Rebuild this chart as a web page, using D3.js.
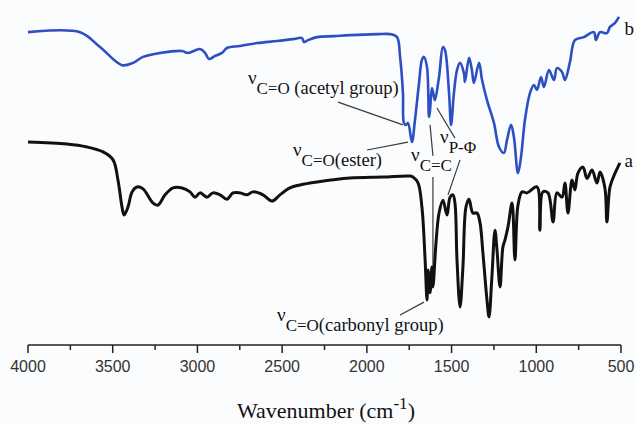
<!DOCTYPE html>
<html>
<head>
<meta charset="utf-8">
<script src="https://cdn.jsdelivr.net/npm/d3@7"></script>
<style>
	body { margin: 0; background: #fbfcfe; }
	svg { display: block; }
</style>
</head>
<body>
<svg id="chart" width="637" height="424"></svg>
<script>
// spectrum b (blue) - wavenumber / transmittance
var waveB = [4000, 3693, 3575, 3445, 3380, 3321, 3221, 3091, 3056, 2985, 2955, 2932, 2896, 2855, 2826, 2749, 2648, 2530, 2436, 2383, 2371, 2347, 2294, 2194, 2100, 1940, 1863, 1822, 1804, 1787, 1781, 1769, 1757, 1734, 1716, 1692, 1675, 1663, 1645, 1633, 1627, 1616, 1604, 1598, 1574, 1551, 1539, 1515, 1503, 1486, 1468, 1450, 1427, 1421, 1397, 1380, 1368, 1338, 1320, 1291, 1250, 1220, 1191, 1173, 1149, 1132, 1108, 1090, 1067, 1037, 1014, 996, 972, 955, 925, 896, 878, 848, 831, 801, 772, 719, 660, 648, 624, 583, 565, 535, 512];
var transB = [94.8, 94.8, 90.3, 84.8, 85.5, 87.3, 88.5, 89.1, 88.5, 89.7, 88.5, 86.7, 87.6, 88.5, 90, 90.6, 91.5, 92.1, 92.7, 93, 91.8, 92.4, 93.3, 93.6, 93.9, 94.2, 94.2, 93.3, 87.3, 76.4, 67.3, 66.7, 67.3, 61.5, 68.2, 79.4, 86.4, 87.3, 84.2, 69.1, 71.2, 77.9, 75.2, 74.2, 81.2, 90.3, 89.4, 76.4, 66.7, 76.4, 83.3, 85.5, 82.4, 79.7, 87, 83.3, 79.4, 85.5, 80.3, 74.2, 67.3, 60, 58.2, 62.1, 66.7, 63, 52.1, 57, 68.2, 76.4, 78.8, 77.3, 81.2, 78.2, 83.3, 80.3, 83.9, 82.7, 80.3, 85.8, 92.4, 93.3, 94.8, 92.4, 94.8, 94.5, 96.4, 97.6, 99.4];

// spectrum a (black)
var waveA = [4000, 3770, 3652, 3557, 3498, 3469, 3445, 3433, 3410, 3386, 3357, 3321, 3262, 3233, 3191, 3144, 3091, 3044, 3014, 2985, 2944, 2908, 2867, 2826, 2790, 2749, 2707, 2672, 2613, 2560, 2513, 2454, 2395, 2294, 2100, 1905, 1745, 1728, 1698, 1675, 1657, 1645, 1639, 1627, 1616, 1610, 1592, 1574, 1551, 1527, 1509, 1492, 1480, 1468, 1450, 1433, 1415, 1397, 1374, 1350, 1332, 1315, 1291, 1279, 1262, 1244, 1232, 1214, 1197, 1185, 1167, 1143, 1126, 1108, 1084, 1055, 996, 979, 961, 931, 901, 878, 848, 831, 813, 789, 772, 754, 724, 701, 671, 642, 624, 595, 583, 565, 535, 506];
var transA = [61.5, 60.9, 60, 58.5, 56.1, 50, 41.8, 39.4, 41.8, 46.4, 47.9, 47.3, 43, 42.4, 45.5, 47.6, 47.6, 46.4, 44.8, 46.1, 44.8, 46.1, 45.5, 44.2, 46.1, 46.1, 45.5, 46.4, 45.5, 43.6, 45.5, 47.6, 48.5, 49.4, 50.6, 50.9, 51.2, 50.9, 49.1, 41.8, 26.7, 13.6, 22.7, 15.8, 23.6, 17.6, 30.9, 40, 43.9, 39.4, 44.8, 45.5, 43, 25.8, 11.5, 23.6, 41.8, 44.2, 40, 40, 37, 27.9, 13.6, 8.5, 20.6, 34.8, 28.8, 17.6, 29.7, 31.8, 35.8, 43, 25.8, 42.4, 46.4, 46.1, 47.9, 34.8, 46.4, 46.1, 37.3, 46.1, 44.8, 49.1, 40, 50, 47, 52.1, 53.9, 50.5, 53, 49.1, 52.4, 47.6, 37.3, 47.9, 52.1, 55.2];

// axis ticks
var majorTicks = [4000, 3500, 3000, 2500, 2000, 1500, 1000, 500];
var minorTicks = [3750, 3250, 2750, 2250, 1750, 1250, 750];

// annotations: label parts + anchor (wavenumber, transmittance of baseline)
var annoNu = ["ν", "ν", "ν", "ν", "ν"];
var annoSub = ["C=O", "C=O", "C=C", "P-Φ", "C=O"];
var annoText = [" (acetyl group)", "(ester)", "", "", "(carbonyl group)"];
var annoWave = [2702, 2436, 1739, 1568, 2530];
var annoTrans = [76.1, 54.2, 52.7, 58.2, 4.2];

// leader lines [w1, t1, w2, t2]
var leaders = [
	[2170, 73.6, 1787, 66.7],
	[1999, 59.1, 1757, 61.5],
	[1627, 66.7, 1610, 57.3],
	[1610, 50.9, 1610, 23.6],
	[1586, 71.8, 1480, 62.7],
	[1450, 56.1, 1521, 45.5],
	[1804, 9.1, 1663, 13]
];

var seriesNames = ["a", "b"];

function drawChart(){
	var svg = d3.select("#chart");

	var x = d3.scaleLinear().domain([4000, 500]).range([28, 621]);
	var y = d3.scaleLinear().domain([0, 100]).range([345, 15]);

	// centripetal catmull-rom keeps the peaks rounded without overshoot
	var line = d3.line()
		.curve(d3.curveCatmullRom.alpha(0.5))
		.x(function (d) {return x(d[0]);})
		.y(function (d) {return y(d[1]);});

	var dataA = d3.zip(waveA, transA);
	var dataB = d3.zip(waveB, transB);

	// leader lines first, so the curves sit over them
	svg.selectAll(".leader")
		.data(leaders)
		.enter()
		.append("line")
		.attr("class", "leader")
		.attr("x1", function (d) {return x(d[0]);})
		.attr("y1", function (d) {return y(d[1]);})
		.attr("x2", function (d) {return x(d[2]);})
		.attr("y2", function (d) {return y(d[3]);})
		.attr("stroke", "#3a3a3a")
		.attr("stroke-width", 1.2);

	svg.append("path")
		.datum(dataB)
		.attr("fill", "none")
		.attr("stroke", "#2c4fc4")
		.attr("stroke-width", 2.6)
		.attr("stroke-linejoin", "round")
		.attr("d", line);

	svg.append("path")
		.datum(dataA)
		.attr("fill", "none")
		.attr("stroke", "#111")
		.attr("stroke-width", 3)
		.attr("stroke-linejoin", "round")
		.attr("d", line);

	// series labels at curve ends
	svg.selectAll(".slabel")
		.data(seriesNames)
		.enter()
		.append("text")
		.attr("class", "slabel")
		.attr("x", x(480))
		.attr("y", function (d) {return d == "a" ? y(54) : y(94);})
		.attr("font-family", "Liberation Serif, serif")
		.attr("font-size", 19)
		.attr("fill", "#111")
		.text(function (d) {return d;});

	// annotations
	var anno = svg.selectAll(".anno")
		.data(annoNu)
		.enter()
		.append("text")
		.attr("class", "anno")
		.attr("x", function (d, i) {return x(annoWave[i]);})
		.attr("y", function (d, i) {return y(annoTrans[i]);})
		.attr("font-family", "Liberation Serif, serif")
		.attr("fill", "#111");

	anno.append("tspan")
		.attr("font-size", 19)
		.attr("dy", -10)
		.text(function (d) {return d;});
	anno.append("tspan")
		.attr("font-size", 17)
		.attr("dy", 10)
		.text(function (d, i) {return annoSub[i];});
	anno.append("tspan")
		.attr("font-size", 18.5)
		.attr("xml:space", "preserve")
		.style("white-space", "pre")
		.text(function (d, i) {return annoText[i];});

	// x axis
	var axis = svg.append("g").attr("transform", "translate(0,345)");
	axis.append("line")
		.attr("x1", x(4000)).attr("x2", x(500))
		.attr("stroke", "#222").attr("stroke-width", 1.5);

	axis.selectAll(".major")
		.data(majorTicks)
		.enter()
		.append("line")
		.attr("class", "major")
		.attr("x1", function (d) {return x(d);})
		.attr("x2", function (d) {return x(d);})
		.attr("y1", 0).attr("y2", 8)
		.attr("stroke", "#222").attr("stroke-width", 1.5);

	axis.selectAll(".minor")
		.data(minorTicks)
		.enter()
		.append("line")
		.attr("class", "minor")
		.attr("x1", function (d) {return x(d);})
		.attr("x2", function (d) {return x(d);})
		.attr("y1", 0).attr("y2", 5)
		.attr("stroke", "#222").attr("stroke-width", 1.5);

	axis.selectAll(".tlabel")
		.data(majorTicks)
		.enter()
		.append("text")
		.attr("class", "tlabel")
		.attr("x", function (d) {return x(d);})
		.attr("y", 27)
		.attr("text-anchor", "middle")
		.attr("font-family", "Liberation Sans, Arial, sans-serif")
		.attr("font-size", 16)
		.attr("fill", "#333")
		.text(function (d) {return d;});

	// axis title
	var title = svg.append("text")
		.attr("x", 237)
		.attr("y", 418)
		.attr("font-family", "Liberation Serif, serif")
		.attr("font-size", 22)
		.attr("fill", "#111");
	title.append("tspan").text("Wavenumber (cm");
	title.append("tspan").attr("font-size", 17).attr("dy", -9).text("-1");
	title.append("tspan").attr("dy", 9).text(")");
}

drawChart();
</script>
</body>
</html>
